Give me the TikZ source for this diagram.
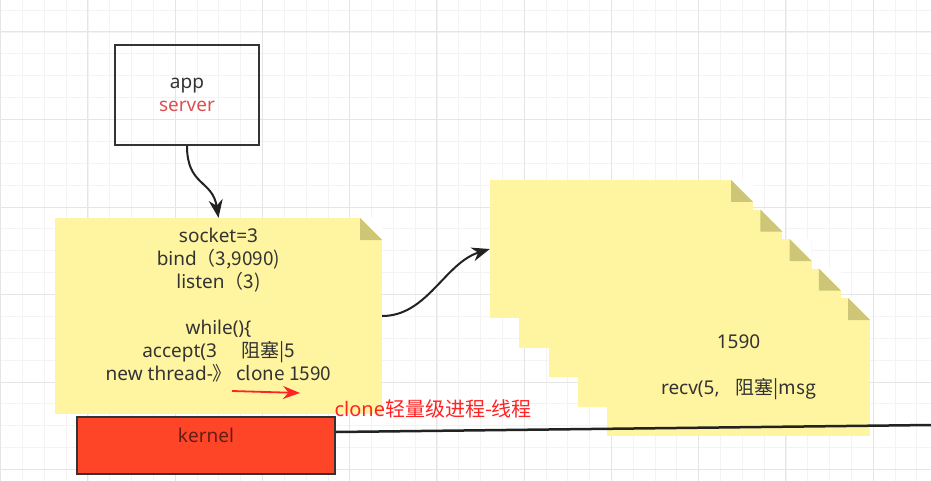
\documentclass[tikz,border=0pt]{standalone}
\usepackage{fontspec}
\setmainfont{Noto Sans}
\newfontfamily\cjk{Noto Sans CJK SC}
\usetikzlibrary{arrows.meta, positioning}

\definecolor{notefill}{RGB}{255,245,160}
\definecolor{notefold}{RGB}{204,198,118}
\definecolor{kernelred}{RGB}{255,69,40}
\definecolor{kerneltext}{RGB}{100,30,20}
\definecolor{serverred}{RGB}{222,80,80}
\definecolor{labelred}{RGB}{255,35,35}
\definecolor{inkgray}{RGB}{51,51,51}
\definecolor{arrowink}{RGB}{34,34,34}
\definecolor{gridminor}{RGB}{243,243,243}
\definecolor{gridmajor}{RGB}{229,229,229}

\begin{document}
\begin{tikzpicture}[x=1pt, y=-1pt,
  every node/.style={font=\fontsize{19}{23}\selectfont, text=inkgray},
  appbox/.style={draw=inkgray, line width=2pt, minimum width=144pt, minimum height=100pt, align=center},
  note/.style={fill=notefill, inner sep=0pt, align=center,
    path picture={
      \coordinate (ne) at (path picture bounding box.north east);
      \fill[white] ([xshift=-22pt]ne) -- (ne) -- ([yshift=-22pt]ne) -- cycle;
      \fill[notefold] ([xshift=-22pt]ne) -- ([xshift=-22pt,yshift=-22pt]ne) -- ([yshift=-22pt]ne) -- cycle;}},
  bignote/.style={note, minimum width=327pt, minimum height=196pt},
  smallnote/.style={note, minimum width=263pt, minimum height=138pt},
  kernelbox/.style={fill=kernelred, draw=inkgray, line width=2pt, minimum width=258pt, minimum height=57pt,
    text=kerneltext, text height=14pt, text depth=21pt},
  flow/.style={line width=2pt, draw=arrowink, -{Stealth[length=18pt, width=14pt]}},
  redarrow/.style={line width=1.8pt, draw=labelred, -{Stealth[length=17pt, width=13pt]}},
  rail/.style={line width=2.5pt, draw=arrowink},
  gridthin/.style={line width=0.8pt, draw=gridminor},
  gridthick/.style={line width=1pt, draw=gridmajor}]

  % canvas and grid
  \useasboundingbox (0,0) rectangle (931,481);
  \fill[white] (0,0) rectangle (931,481);
  \foreach \k in {0,...,42} \draw[gridthin] ({0.75+21.81*\k},0) -- ({0.75+21.81*\k},481);
  \foreach \k in {0,...,21} \draw[gridthin] (0,{10.125+21.875*\k}) -- (931,{10.125+21.875*\k});
  \foreach \k in {0,...,10} \draw[gridthick] ({0.75+87.24*\k},0) -- ({0.75+87.24*\k},481);
  \foreach \k in {0,...,5} \draw[gridthick] (0,{32+87.5*\k}) -- (931,{32+87.5*\k});

  % app on top
  \node[appbox] (app) at (187,95) {app\\\textcolor{serverred}{server}};

  % main program note
  \node[bignote] (note1) at (218.5,316) {};
  \node[align=center] (code1) at ([yshift=11pt]note1.center)
    {socket=3\\
     bind\cjk{（}3,9090)\\
     listen\cjk{（}3)\\[23pt]
     while()\{\\
     accept(3\hspace{24pt}\cjk{阻塞}|5\\
     new thread-\cjk{》} clone 1590};

  % kernel
  \node[kernelbox] (kernel) at (206,445.5) {kernel};

  % stack of thread notes
  \node[smallnote] (stack1) at (621.5,249) {};
  \node[smallnote] (stack2) at ([shift={(29.25,29.5)}]stack1) {};
  \node[smallnote] (stack3) at ([shift={(29.25,29.5)}]stack2) {};
  \node[smallnote] (stack4) at ([shift={(29.25,29.5)}]stack3) {};
  \node[smallnote] (stack5) at ([shift={(29.25,29.5)}]stack4) {1590\\[23pt]recv(5,\hspace{16pt}\cjk{阻塞}|msg};

  % connectors
  \draw[flow] (app.south) .. controls +(0,40) and +(-6,-38) .. (note1.north);
  \draw[flow] (note1.east) .. controls +(45,0) and +(-45,14) .. (stack1.west);

  \coordinate (railend) at (931,425);
  \draw[rail] ([yshift=13.5pt]kernel.east) -- (railend);

  % red remark
  \coordinate (redtail) at (232,391);
  \coordinate (redtip) at (300,393);
  \draw[redarrow] (redtail) -- (redtip);
  \node[anchor=west, text=labelred, font=\fontsize{20}{24}\selectfont] (clonelabel) at (331,409)
    {clone\cjk{轻量级进程}-\cjk{线程}};

\end{tikzpicture}
\end{document}
